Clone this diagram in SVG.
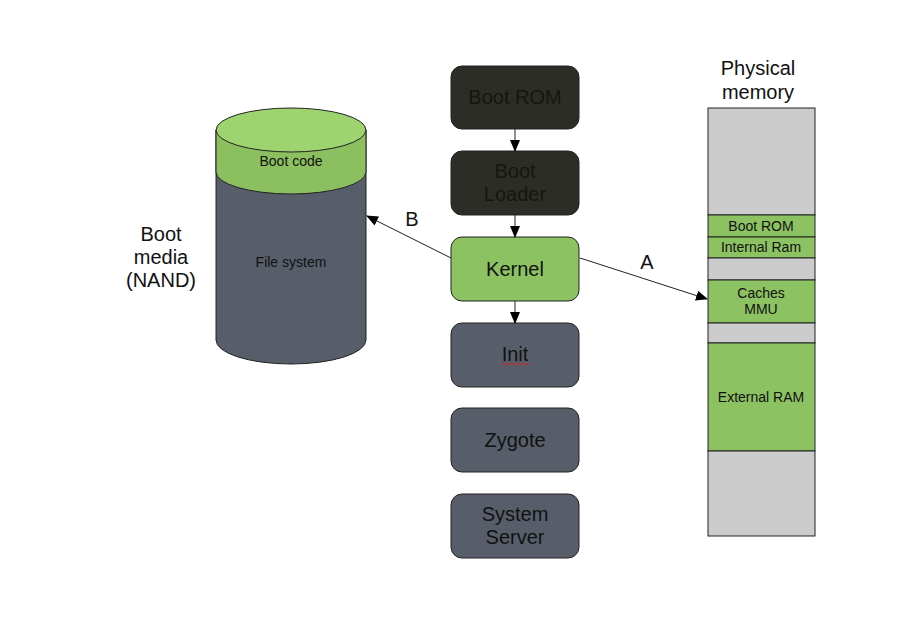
<svg xmlns="http://www.w3.org/2000/svg" width="902" height="636" viewBox="0 0 902 636">
<defs>
<style>
text{font-family:"Liberation Sans",Arial,sans-serif;fill:#111;text-anchor:middle}
.big{font-size:20px}
.sm{font-size:14px}
.box{stroke:#222;stroke-width:1}
.dark{fill:#2d2d27}
.dark + text, .darkt{fill:#16160f}
.gray{fill:#575e69}
.green{fill:#8dc262}
.mem{stroke:#222;stroke-width:1}
.conn{stroke:#222;stroke-width:1;fill:none}
</style>
<marker id="ah" markerWidth="12" markerHeight="12" refX="11" refY="5" orient="auto" markerUnits="userSpaceOnUse" viewBox="0 0 12 10">
<path d="M0,0 L12,5 L0,10 Z" fill="#000"/>
</marker>
</defs>
<rect width="902" height="636" fill="#fff"/>

<g id="boot-media">
<path d="M216,130 L216,340 A75,24 0 0 0 366,340 L366,130 Z" fill="#575e6a" stroke="#222"/>
<path d="M216,130 L216,172 A75,22 0 0 0 366,172 L366,130 Z" fill="#8cbf5f" stroke="#222"/>
<ellipse cx="291" cy="130" rx="75" ry="22" fill="#9ed46f" stroke="#222"/>
<text class="sm" x="291" y="166">Boot code</text>
<text class="sm" x="291" y="267">File system</text>
</g>
<g id="boot-media-label">
<text class="big" x="161" y="241">Boot</text>
<text class="big" x="161" y="264">media</text>
<text class="big" x="161" y="287">(NAND)</text>
</g>

<g id="boot-rom">
<rect class="box dark" x="451" y="66" width="128" height="63" rx="11"/>
<text class="big darkt" x="515" y="104">Boot ROM</text>
</g>
<g id="boot-loader">
<rect class="box dark" x="451" y="151" width="128" height="64" rx="11"/>
<text class="big darkt" x="515" y="178">Boot</text>
<text class="big darkt" x="515" y="201">Loader</text>
</g>
<g id="kernel">
<rect class="box green" x="451" y="237" width="128" height="64" rx="11"/>
<text class="big" x="515" y="276">Kernel</text>
</g>
<g id="init">
<rect class="box gray" x="451" y="323" width="128" height="64" rx="11"/>
<text class="big" x="515" y="361">Init</text>
<path d="M502,364 q1.7,-2 3.4,0 t3.4,0 t3.4,0 t3.4,0 t3.4,0 t3.4,0 t3.4,0 t3.4,0" fill="none" stroke="#e02020" stroke-width="1"/>
</g>
<g id="zygote">
<rect class="box gray" x="451" y="408" width="128" height="64" rx="11"/>
<text class="big" x="515" y="447">Zygote</text>
</g>
<g id="system-server">
<rect class="box gray" x="451" y="494" width="128" height="64" rx="11"/>
<text class="big" x="515" y="521">System</text>
<text class="big" x="515" y="544">Server</text>
</g>

<g id="physical-memory">
<text class="big" x="758" y="75">Physical</text>
<text class="big" x="758" y="99">memory</text>
<rect class="mem" x="708" y="108" width="107" height="107" fill="#cccccc"/>
<rect class="mem" x="708" y="215" width="107" height="22" fill="#8dc262"/>
<rect class="mem" x="708" y="237" width="107" height="21" fill="#8dc262"/>
<rect class="mem" x="708" y="258" width="107" height="22" fill="#cccccc"/>
<rect class="mem" x="708" y="280" width="107" height="43" fill="#8dc262"/>
<rect class="mem" x="708" y="323" width="107" height="20" fill="#cccccc"/>
<rect class="mem" x="708" y="343" width="107" height="108" fill="#8dc262"/>
<rect class="mem" x="708" y="451" width="107" height="85" fill="#cccccc"/>
<text class="sm" x="761" y="231">Boot ROM</text>
<text class="sm" x="761" y="252">Internal Ram</text>
<text class="sm" x="761" y="298">Caches</text>
<text class="sm" x="761" y="314">MMU</text>
<text class="sm" x="761" y="402">External RAM</text>
</g>

<g id="connectors">
<line class="conn" x1="515" y1="129" x2="515" y2="151" marker-end="url(#ah)"/>
<line class="conn" x1="515" y1="215" x2="515" y2="237" marker-end="url(#ah)"/>
<line class="conn" x1="515" y1="301" x2="515" y2="323" marker-end="url(#ah)"/>
<line class="conn" x1="451" y1="258" x2="367" y2="216" marker-end="url(#ah)"/>
<line class="conn" x1="580" y1="258" x2="707" y2="299" marker-end="url(#ah)"/>
<text class="big" x="412" y="226">B</text>
<text class="big" x="647" y="269">A</text>
</g>
</svg>
